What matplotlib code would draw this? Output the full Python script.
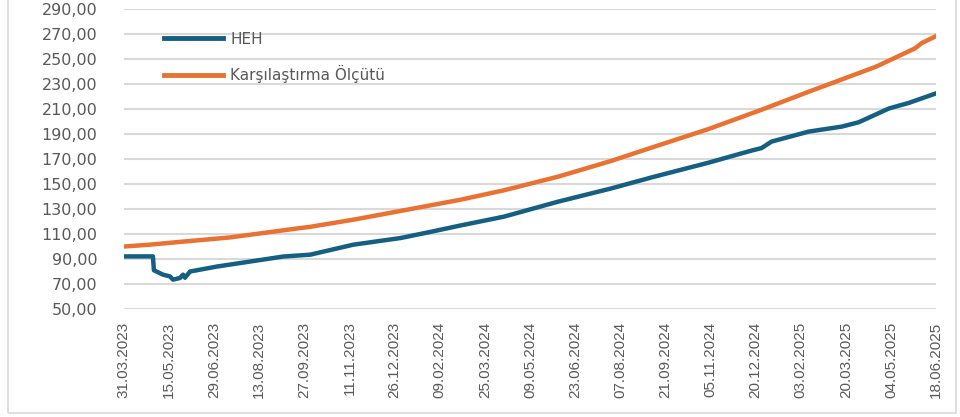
import matplotlib
matplotlib.use("Agg")
import matplotlib.pyplot as plt
import matplotlib.dates as mdates
from matplotlib.patches import Rectangle
from matplotlib.ticker import FuncFormatter
import pandas as pd

# HEH fund series
heh_dates = ["31.03.2023", "29.04.2023", "30.04.2023", "09.05.2023", "16.05.2023",
             "19.05.2023", "26.05.2023", "29.05.2023", "31.05.2023", "05.06.2023",
             "02.07.2023", "04.08.2023", "06.09.2023", "03.10.2023", "15.11.2023",
             "01.01.2024", "02.02.2024", "01.03.2024", "13.04.2024", "06.06.2024",
             "29.07.2024", "10.09.2024", "03.11.2024", "16.12.2024", "26.12.2024",
             "05.01.2025", "11.02.2025", "16.03.2025", "02.04.2025", "02.05.2025",
             "22.05.2025", "18.06.2025"]
heh_values = [92.1, 92.1, 81.0, 77.5, 76.1,
              73.5, 74.8, 77.5, 75.0, 80.0,
              84.0, 88.0, 92.0, 93.5, 101.5,
              106.8, 112.1, 116.9, 123.9, 135.9,
              146.5, 155.9, 167.1, 176.8, 178.8,
              184.0, 192.0, 196.0, 199.5, 210.5,
              215.0, 222.6]

# benchmark series
bench_dates = ["31.03.2023", "26.04.2023", "23.05.2023", "15.07.2023", "23.09.2023",
               "03.10.2023", "15.11.2023", "01.01.2024", "01.03.2024", "13.04.2024",
               "06.06.2024", "29.07.2024", "10.09.2024", "03.11.2024", "26.12.2024",
               "11.02.2025", "19.04.2025", "28.05.2025", "04.06.2025", "18.06.2025"]
bench_values = [100.0, 101.5, 103.5, 107.3, 114.8,
                115.8, 121.5, 128.5, 137.5, 145.0,
                155.9, 168.5, 179.9, 194.0, 209.5,
                223.9, 243.9, 258.6, 263.0, 268.4]

series_labels = ["HEH", "Karşılaştırma Ölçütü"]
start_date = "31.03.2023"
end_date = "18.06.2025"
y_ticks = list(range(50, 291, 20))

heh_x = pd.to_datetime(heh_dates, format="%d.%m.%Y")
bench_x = pd.to_datetime(bench_dates, format="%d.%m.%Y")
x0 = pd.to_datetime(start_date, format="%d.%m.%Y")
x1 = pd.to_datetime(end_date, format="%d.%m.%Y")

blue = "#156082"
orange = "#E97132"
text_col = "#595959"
grid_col = "#D9D9D9"

fig = plt.figure(figsize=(9.6, 4.17), dpi=100)
ax = fig.add_axes([0.129, 0.259, 0.846, 0.719])

ax.plot(heh_x, heh_values, color=blue, lw=3.2, solid_joinstyle="round", label=series_labels[0], zorder=3)
ax.plot(bench_x, bench_values, color=orange, lw=3.2, solid_joinstyle="round", label=series_labels[1], zorder=3)

ax.set_xlim(x0, x1)
ax.set_ylim(50, 290)
ax.set_yticks(y_ticks)
ax.yaxis.set_major_formatter(FuncFormatter(lambda v, p: f"{v:.2f}".replace(".", ",")))
ax.set_xticks(pd.date_range(x0, x1, freq="45D"))
ax.xaxis.set_major_formatter(mdates.DateFormatter("%d.%m.%Y"))

ax.grid(axis="y", color=grid_col, lw=1.5)
ax.set_axisbelow(True)
for s in ax.spines.values():
    s.set_visible(False)
ax.tick_params(axis="both", length=0, colors=text_col)
ax.tick_params(axis="y", pad=19, labelsize=11.5)
ax.tick_params(axis="x", pad=9)
for lab in ax.get_xticklabels():
    lab.set_family("Liberation Sans")
    lab.set_fontsize(11)
    lab.set_rotation(90)
    lab.set_ha("center")
    lab.set_va("top")

leg = ax.legend(loc="upper left", bbox_to_anchor=(0.05, 0.925), frameon=False,
                handlelength=3.8, labelspacing=1.2, handletextpad=0.5,
                borderpad=0, borderaxespad=0, fontsize=11)
for t in leg.get_texts():
    t.set_color(text_col)
for h in leg.get_lines():
    h.set_linewidth(3.5)

# light frame around the chart area
fig.patches.append(Rectangle((8 / 960, 4 / 417), 948 / 960, 1.2, transform=fig.transFigure,
                             fill=False, edgecolor=grid_col, lw=1.2))

fig.savefig("out.png", dpi=100, facecolor="white")
